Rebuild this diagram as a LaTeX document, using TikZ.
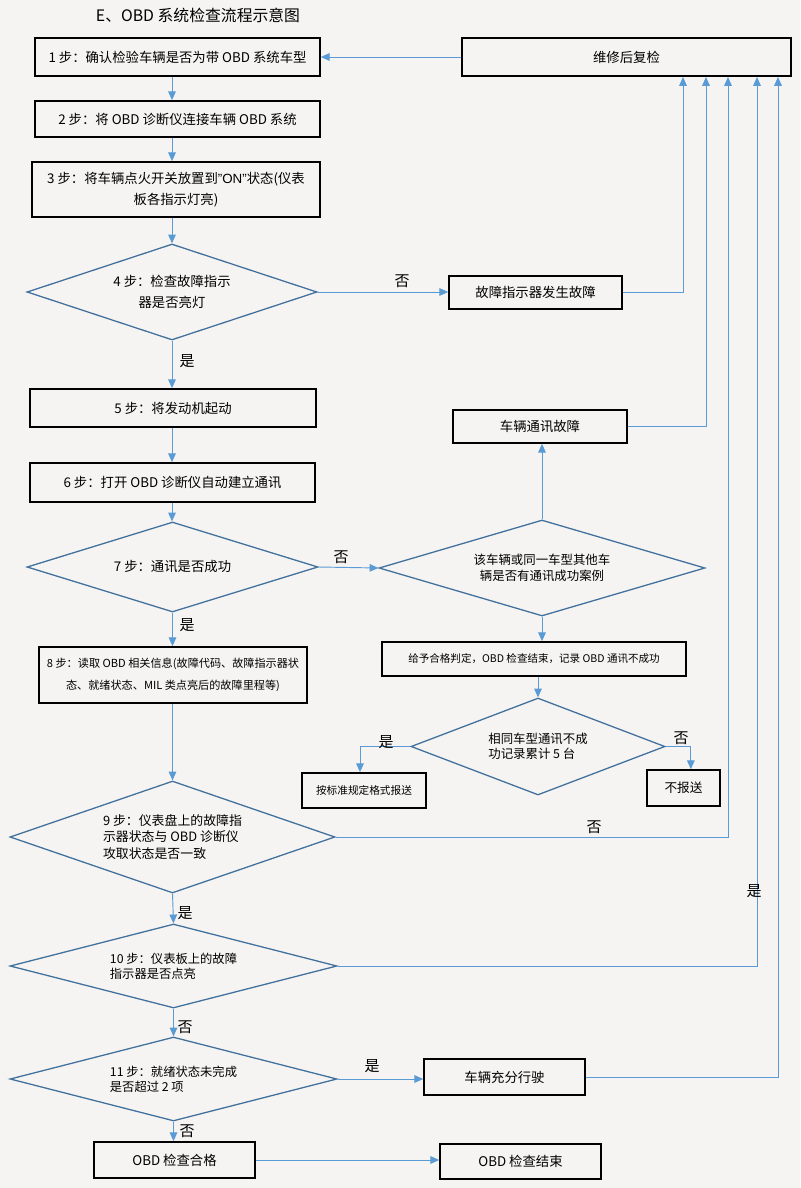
\documentclass[tikz,border=0pt]{standalone}
\usepackage{fontspec}
\setmainfont{Noto Sans CJK SC}
\newfontfamily\latinq{Liberation Sans}
\usetikzlibrary{shapes.geometric,arrows.meta}
\definecolor{bgcol}{RGB}{245,244,242}
\definecolor{lineblue}{RGB}{91,155,213}
\definecolor{edgeblue}{RGB}{65,113,156}
\newcommand\boxfont{\fontsize{11.4pt}{18pt}\selectfont}
\newcommand\labfont{\fontsize{12.8pt}{15pt}\selectfont}
\begin{document}
\begin{tikzpicture}[x=0.03cm,y=-0.03cm,
  sz/.style 2 args={minimum width=#1*0.03cm,minimum height=#2*0.03cm},
  stepbox/.style={draw=black,line width=1.4pt,inner sep=0pt,align=center,font=\boxfont},
  decide/.style={shape=diamond,draw=edgeblue,line width=1.1pt,inner sep=0pt,align=center,font=\boxfont},
  link/.style={draw=lineblue,line width=0.8pt,-{Triangle[length=7.5pt,width=6.5pt]}},
  yesno/.style={font=\labfont,inner sep=0pt}]

\fill[bgcol] (0,0) rectangle (800,1188);
\useasboundingbox (0,0) rectangle (800,1188);

\node[font=\fontsize{13.5pt}{16pt}\selectfont] (title) at (198,15) {E、OBD 系统检查流程示意图};

% main column
\node[stepbox,sz={285}{38}] (s1) at (177.5,57) {1 步：确认检验车辆是否为带 OBD 系统车型};
\node[stepbox,sz={285}{36}] (s2) at (177.5,119) {2 步：将 OBD 诊断仪连接车辆 OBD 系统};
\node[stepbox,sz={288}{55}] (s3) at (176,189.5) {3 步：将车辆点火开关放置到{\latinq ”ON”}状态(仪表\\板各指示灯亮)};
\node[decide,aspect=3,sz={290}{96}] (d4) at (172,292) {4 步：检查故障指示\\器是否亮灯};
\node[stepbox,sz={286}{38}] (s5) at (173,408) {5 步：将发动机起动};
\node[stepbox,sz={285}{39}] (s6) at (172.5,482.5) {6 步：打开 OBD 诊断仪自动建立通讯};
\node[decide,aspect=3.2,sz={291}{90}] (d7) at (172.5,567) {7 步：通讯是否成功};
\node[stepbox,sz={268}{56},font=\fontsize{9.5pt}{19pt}\selectfont] (s8) at (173,675) {8 步：读取 OBD 相关信息(故障代码、故障指示器状\\态、就绪状态、MIL 类点亮后的故障里程等)};
\node[decide,aspect=2.9,sz={325}{112},align=left,font=\fontsize{11pt}{13.7pt}\selectfont] (d9) at (172.5,837) {9 步：仪表盘上的故障指\\示器状态与 OBD 诊断仪\\攻取状态是否一致};
\node[decide,aspect=3.9,sz={327}{84},align=left,font=\fontsize{10.5pt}{12.5pt}\selectfont] (d10) at (173.5,966) {10 步：仪表板上的故障\\指示器是否点亮};
\node[decide,aspect=3.9,sz={327}{84},align=left,font=\fontsize{10.5pt}{12.5pt}\selectfont] (d11) at (173.5,1079) {11 步：就绪状态未完成\\是否超过 2 项};
\node[stepbox,sz={161}{36}] (ok) at (174.5,1160) {OBD 检查合格};
\node[stepbox,sz={161}{35}] (end) at (520.5,1161.5) {OBD 检查结束};

% right side
\node[stepbox,sz={329}{38}] (recheck) at (626.5,57) {维修后复检};
\node[stepbox,sz={173}{33}] (fault) at (535.5,292.5) {故障指示器发生故障};
\node[stepbox,sz={174}{33}] (commfault) at (540,426.5) {车辆通讯故障};
\node[decide,aspect=3.4,sz={326}{96},font=\fontsize{10.6pt}{13.7pt}\selectfont] (comm) at (542,568) {该车辆或同一车型其他车\\辆是否有通讯成功案例};
\node[stepbox,sz={304}{34},font=\fontsize{9pt}{11pt}\selectfont] (pass1) at (534,659) {给予合格判定，OBD 检查结束，记录 OBD 通讯不成功};
\node[decide,aspect=2.6,sz={254}{97},align=left,font=\fontsize{10.6pt}{12.8pt}\selectfont] (same) at (538,746.5) {相同车型通讯不成\\功记录累计 5 台};
\node[stepbox,sz={124}{35},font=\fontsize{9.1pt}{11pt}\selectfont] (report) at (364,790.5) {按标准规定格式报送};
\node[stepbox,sz={73}{36},font=\fontsize{10.8pt}{13pt}\selectfont] (noreport) at (683.5,788) {不报送};
\node[stepbox,sz={161}{36}] (drive) at (504.5,1077) {车辆充分行驶};

\coordinate (r1) at (683,77);
\coordinate (r2) at (706,77);
\coordinate (r3) at (728,77);
\coordinate (r4) at (757,77);
\coordinate (r5) at (778,77);

% connectors
\draw[link] (recheck.west) -- (s1.east);
\draw[link] (s1.south -| d4) -- (s2.north -| d4);
\draw[link] (s2.south -| d4) -- (s3.north -| d4);
\draw[link] (s3.south -| d4) -- (d4.north);
\draw[link] (d4.south) -- (s5.north -| d4);
\draw[link] (s5.south -| d4) -- (s6.north -| d4);
\draw[link] (s6.south -| d4) -- (d7.north -| d4);
\draw[link] (d7.south) -- (s8.north -| d7);
\draw[link] (s8.south -| d7) -- (d9.north);
\draw[link] (d9.south) -- (d10.north);
\draw[link] (d10.south) -- (d11.north);
\draw[link] (d11.south) -- (ok.north -| d11);
\draw[link] (ok.east) -- (ok.east -| end.west);

\draw[link] (d4.east) -- (d4.east -| fault.west);
\draw[link] (d7.east) -- (comm.west);
\draw[link] (comm.north) -- (comm.north |- commfault.south);
\draw[link] (comm.south) -- (comm.south |- pass1.north);
\draw[link] (pass1.south -| same) -- (same.north);
\draw[link] (same.west) -| ([xshift=-0.12cm]report.north);
\draw[link] (same.east) -| ([xshift=0.22cm]noreport.north);
\draw[link] (d11.east) -- (d11.east -| drive.west);

% back to recheck
\draw[link] (fault.east) -| (r1);
\draw[link] (commfault.east) -| (r2);
\draw[link] (d9.east) -| (r3);
\draw[link] (d10.east) -| (r4);
\draw[link] (drive.east) -| (r5);

% yes / no
\node[yesno] (l1) at (402,281) {否};
\node[yesno] (l2) at (187,361) {是};
\node[yesno] (l3) at (341,557) {否};
\node[yesno] (l4) at (187,625) {是};
\node[yesno] (l5) at (386,742) {是};
\node[yesno] (l6) at (681,738) {否};
\node[yesno] (l7) at (594,827) {否};
\node[yesno] (l8) at (754,891) {是};
\node[yesno] (l9) at (185,913) {是};
\node[yesno] (l10) at (185,1027) {否};
\node[yesno] (l11) at (372,1066) {是};
\node[yesno] (l12) at (187,1131) {否};

\end{tikzpicture}
\end{document}
